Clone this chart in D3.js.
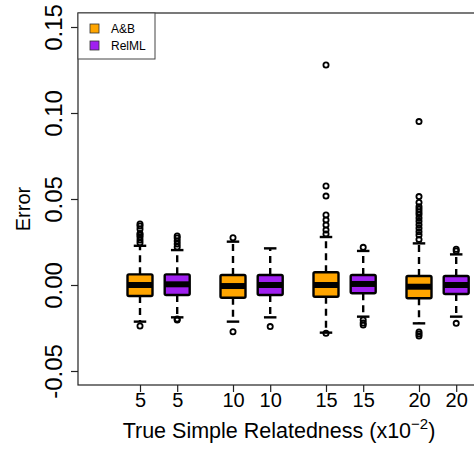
<!DOCTYPE html>
<html>
<head>
<meta charset="utf-8">
<script src="https://cdn.jsdelivr.net/npm/d3@7"></script>
<style>
  html, body { margin: 0; padding: 0; background: #fff; }
  svg { display: block; font-family: "Liberation Sans", Arial, Helvetica, sans-serif; }
</style>
</head>
<body>
<svg id="chart" width="474" height="450"></svg>
<script>
// ---- data ----
const groups = ["5", "10", "15", "20"];
const methods = ["A&B", "RelML"];
const colors = ["#FFA500", "#A020F0"];
const yTicks = [-0.05, 0, 0.05, 0.10, 0.15];

// one entry per box, in order: 5 A&B, 5 RelML, 10 A&B, 10 RelML, ...
const boxGroup  = ["5", "5", "10", "10", "15", "15", "20", "20"];
const boxMethod = ["A&B", "RelML", "A&B", "RelML", "A&B", "RelML", "A&B", "RelML"];
const q1        = [-0.0064, -0.0058, -0.0074, -0.0058, -0.0068, -0.0048, -0.0077, -0.0052];
const medians   = [ 0.0000,  0.0004, -0.0006,  0.0000,  0.0000,  0.0006, -0.0010,  0.0000];
const q3        = [ 0.0062,  0.0062,  0.0058,  0.0058,  0.0074,  0.0058,  0.0052,  0.0052];
const whiskLow  = [-0.0213, -0.0188, -0.0213, -0.0188, -0.0277, -0.0184, -0.0223, -0.0184];
const whiskHigh = [ 0.0228,  0.0203,  0.0252,  0.0213,  0.0279,  0.0198,  0.0242,  0.0178];
const outliers  = [
  [0.0245, 0.0262, 0.0279, 0.0290, 0.0300, 0.0326, 0.0343, 0.0355, -0.0238],
  [0.0221, 0.0238, 0.0256, 0.0273, 0.0285, -0.0198, -0.0203],
  [0.0275, -0.0272],
  [-0.0242],
  [0.1279, 0.0576, 0.0517, 0.0407, 0.0378, 0.0349, 0.0320, 0.0297, -0.0281],
  [0.0219, -0.0203, -0.0221, -0.0233],
  [0.0950, 0.0514, 0.0480, 0.0455, 0.0440, 0.0425, 0.0410, 0.0390, 0.0370, 0.0350,
   0.0330, 0.0310, 0.0290, 0.0265, -0.0273, -0.0285, -0.0297],
  [0.0198, 0.0208, -0.0223]
];
const xTitle = "True Simple Relatedness (x10";
const xTitleSup = "\u22122";
const yTitle = "Error";

// ---- layout ----
const svg = d3.select("#chart");
const plot = { left: 78, top: 13, right: 480, bottom: 385 };

const x0 = d3.scaleBand().domain(groups).range([112.1, 484.1]).paddingInner(0).paddingOuter(0);
const x1 = d3.scalePoint().domain(methods).range([0, x0.bandwidth()]).padding(0.75);
const y = d3.scaleLinear().domain([-0.05814, 0.15814]).range([plot.bottom, plot.top]);
const color = d3.scaleOrdinal().domain(methods).range(colors);

const boxes = boxGroup.map((g, i) => ({
  key: g + "|" + boxMethod[i], group: g, method: boxMethod[i],
  q1: q1[i], med: medians[i], q3: q3[i], lo: whiskLow[i], hi: whiskHigh[i], out: outliers[i]
}));
const xBox = d3.scaleOrdinal()
  .domain(boxes.map(b => b.key))
  .range(boxes.map(b => x0(b.group) + x1(b.method)));

const boxW = 25;
const stapleW = 12.5;

// frame
svg.append("rect")
  .attr("x", plot.left).attr("y", plot.top)
  .attr("width", plot.right - plot.left).attr("height", plot.bottom - plot.top)
  .attr("fill", "none").attr("stroke", "#222").attr("stroke-width", 1.2);

// boxes
const bg = svg.append("g").selectAll("g").data(boxes).join("g")
  .attr("transform", d => `translate(${xBox(d.key)},0)`);

// whiskers (dashed)
bg.append("line").attr("x1", 0).attr("x2", 0)
  .attr("y1", d => y(d.q3)).attr("y2", d => y(d.hi))
  .attr("stroke", "#000").attr("stroke-width", 2.4).attr("stroke-dasharray", "7,5");
bg.append("line").attr("x1", 0).attr("x2", 0)
  .attr("y1", d => y(d.q1)).attr("y2", d => y(d.lo))
  .attr("stroke", "#000").attr("stroke-width", 2.4).attr("stroke-dasharray", "7,5");
// staples
bg.append("line").attr("x1", -stapleW / 2).attr("x2", stapleW / 2)
  .attr("y1", d => y(d.hi)).attr("y2", d => y(d.hi))
  .attr("stroke", "#000").attr("stroke-width", 2.4);
bg.append("line").attr("x1", -stapleW / 2).attr("x2", stapleW / 2)
  .attr("y1", d => y(d.lo)).attr("y2", d => y(d.lo))
  .attr("stroke", "#000").attr("stroke-width", 2.4);
// box
bg.append("rect")
  .attr("x", -boxW / 2).attr("width", boxW)
  .attr("y", d => y(d.q3)).attr("height", d => y(d.q1) - y(d.q3))
  .attr("fill", d => color(d.method)).attr("stroke", "#000").attr("stroke-width", 2.4)
  .attr("rx", 1.5);
// median
bg.append("line").attr("x1", -boxW / 2).attr("x2", boxW / 2)
  .attr("y1", d => y(d.med)).attr("y2", d => y(d.med))
  .attr("stroke", "#000").attr("stroke-width", 6);
// outliers
bg.selectAll("circle").data(d => d.out).join("circle")
  .attr("cx", 0).attr("cy", v => y(v)).attr("r", 2.6)
  .attr("fill", "none").attr("stroke", "#000").attr("stroke-width", 1.8);

// y axis
const yAxis = svg.append("g").attr("transform", `translate(${plot.left},0)`)
  .call(d3.axisLeft(y).tickValues(yTicks).tickSize(7).tickFormat(d => d.toFixed(2)));
yAxis.select(".domain").remove();
yAxis.selectAll(".tick line").attr("stroke", "#222").attr("stroke-width", 1.2);
yAxis.selectAll(".tick text")
  .attr("x", 0).attr("dy", 0).attr("text-anchor", "middle")
  .attr("transform", "translate(-16,0) rotate(-90)")
  .attr("font-size", 24).attr("font-family", "Liberation Sans, Arial, sans-serif").attr("fill", "#000");

// x axis
const xAxis = svg.append("g").attr("transform", `translate(0,${plot.bottom})`)
  .call(d3.axisBottom(xBox).tickSize(7).tickPadding(4).tickFormat(k => k.split("|")[0]));
xAxis.select(".domain").remove();
xAxis.selectAll(".tick line").attr("stroke", "#222").attr("stroke-width", 1.2);
xAxis.selectAll(".tick text")
  .attr("y", 22).attr("dy", 0)
  .attr("font-size", 20).attr("font-family", "Liberation Sans, Arial, sans-serif").attr("fill", "#000");

// axis titles
const xt = svg.append("text")
  .attr("x", (plot.left + plot.right) / 2).attr("y", 438)
  .attr("text-anchor", "middle").attr("font-size", 21.5).attr("fill", "#000");
xt.append("tspan").text(xTitle);
xt.append("tspan").attr("font-size", 15).attr("dy", -9).text(xTitleSup);
xt.append("tspan").attr("dy", 9).text(")");

svg.append("text")
  .attr("transform", `translate(30,${(plot.top + plot.bottom) / 2 + 10}) rotate(-90)`)
  .attr("text-anchor", "middle").attr("font-size", 20).attr("fill", "#000")
  .text(yTitle);

// legend
const lg = svg.append("g");
lg.append("rect").attr("x", plot.left).attr("y", plot.top).attr("width", 77).attr("height", 46)
  .attr("fill", "#fff").attr("stroke", "#444").attr("stroke-width", 1);
const li = lg.selectAll("g.item").data(methods).join("g").attr("class", "item")
  .attr("transform", (d, i) => `translate(${plot.left + 12},${plot.top + 11 + i * 17})`);
li.append("rect").attr("width", 9).attr("height", 9)
  .attr("fill", d => color(d)).attr("stroke", "#333").attr("stroke-width", 0.8);
li.append("text").attr("x", 21).attr("y", 9).attr("font-size", 12).attr("fill", "#000").text(d => d);
</script>
</body>
</html>
